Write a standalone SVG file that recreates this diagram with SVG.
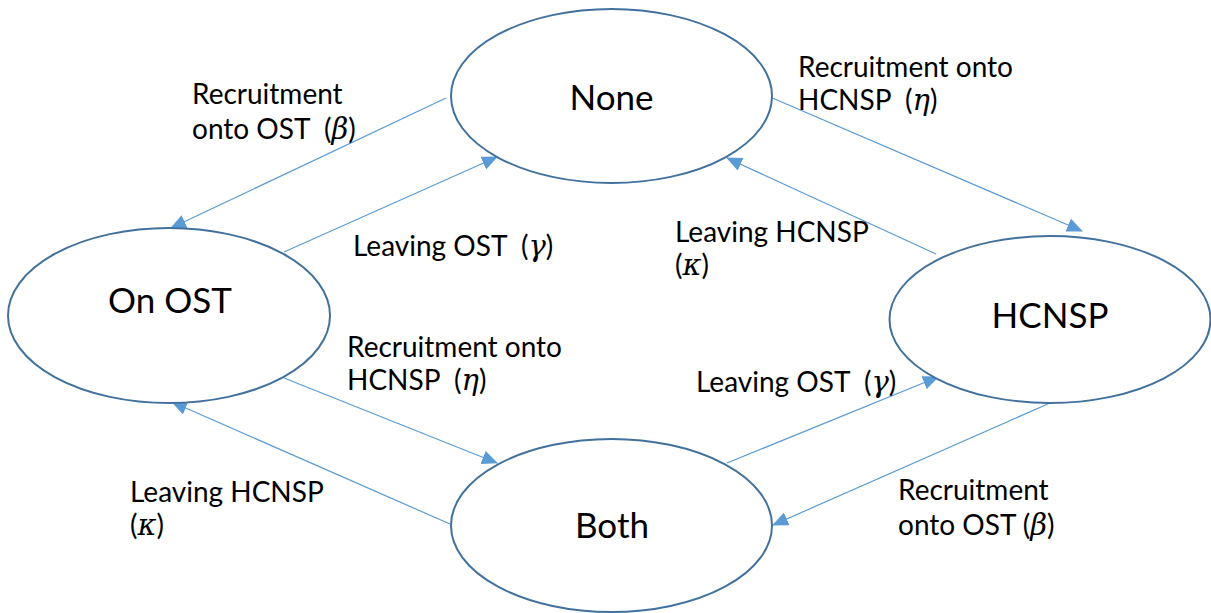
<svg xmlns="http://www.w3.org/2000/svg" width="1211" height="613" viewBox="0 0 1211 613">
<style>
.node{fill:#ffffff;stroke:#41719c;stroke-width:2}
.nl{font-family:Lato,"Open Sans","Liberation Sans",sans-serif;font-size:35px;fill:#000;text-anchor:middle}
.lb{font-family:Lato,"Open Sans","Liberation Sans",sans-serif;font-size:28px;fill:#000;white-space:pre}
.g{font-family:"DejaVu Serif","Liberation Serif",serif;font-style:italic;font-size:29px}
.c{stroke:#5b9bd5;stroke-width:1.2;fill:none;marker-end:url(#ah)}
</style>
<defs>
<marker id="ah" markerUnits="userSpaceOnUse" markerWidth="16" markerHeight="14" viewBox="0 0 16 14" refX="15" refY="7" orient="auto">
<path d="M0,0 L16,7 L0,14 Z" fill="#5b9bd5"/>
</marker>
</defs>
<rect width="1211" height="613" fill="#ffffff"/>
<g id="connectors">
<line class="c" x1="446" y1="98" x2="171" y2="228"/>
<line class="c" x1="284" y1="252" x2="497" y2="157"/>
<line class="c" x1="770" y1="97" x2="1082" y2="231"/>
<line class="c" x1="936" y1="254" x2="727" y2="158"/>
<line class="c" x1="284" y1="378" x2="497" y2="463"/>
<line class="c" x1="450" y1="524" x2="172" y2="402"/>
<line class="c" x1="727" y1="463" x2="938" y2="377"/>
<line class="c" x1="1050" y1="403" x2="773" y2="525"/>
</g>
<g id="node-none">
<ellipse class="node" cx="611.5" cy="96" rx="160.5" ry="87"/>
<text class="nl" x="611.5" y="110">None</text>
</g>
<g id="node-onost">
<ellipse class="node" cx="169" cy="315.5" rx="161" ry="87.5"/>
<text class="nl" x="170" y="313">On OST</text>
</g>
<g id="node-both">
<ellipse class="node" cx="611.5" cy="525.5" rx="160.5" ry="86.5"/>
<text class="nl" x="612" y="538">Both</text>
</g>
<g id="node-hcnsp">
<ellipse class="node" cx="1050" cy="319.5" rx="160.5" ry="83.5"/>
<text class="nl" x="1050" y="328">HCNSP</text>
</g>
<g id="labels" xml:space="preserve">
<text class="lb" x="192" y="104">Recruitment</text>
<text class="lb" x="192" y="139">onto OST  (<tspan class="g">β</tspan>)</text>
<text class="lb" x="798" y="77">Recruitment onto</text>
<text class="lb" x="798" y="110">HCNSP  (<tspan class="g">η</tspan>)</text>
<text class="lb" x="353" y="256">Leaving OST  (<tspan class="g">γ</tspan>)</text>
<text class="lb" x="675" y="242">Leaving HCNSP</text>
<text class="lb" x="675" y="275">(<tspan class="g">κ</tspan>)</text>
<text class="lb" x="347" y="357">Recruitment onto</text>
<text class="lb" x="347" y="390">HCNSP  (<tspan class="g">η</tspan>)</text>
<text class="lb" x="696" y="392">Leaving OST  (<tspan class="g">γ</tspan>)</text>
<text class="lb" x="130" y="502">Leaving HCNSP</text>
<text class="lb" x="130" y="535">(<tspan class="g">κ</tspan>)</text>
<text class="lb" x="898" y="500">Recruitment</text>
<text class="lb" x="898" y="535">onto OST (<tspan class="g">β</tspan>)</text>
</g>
</svg>
